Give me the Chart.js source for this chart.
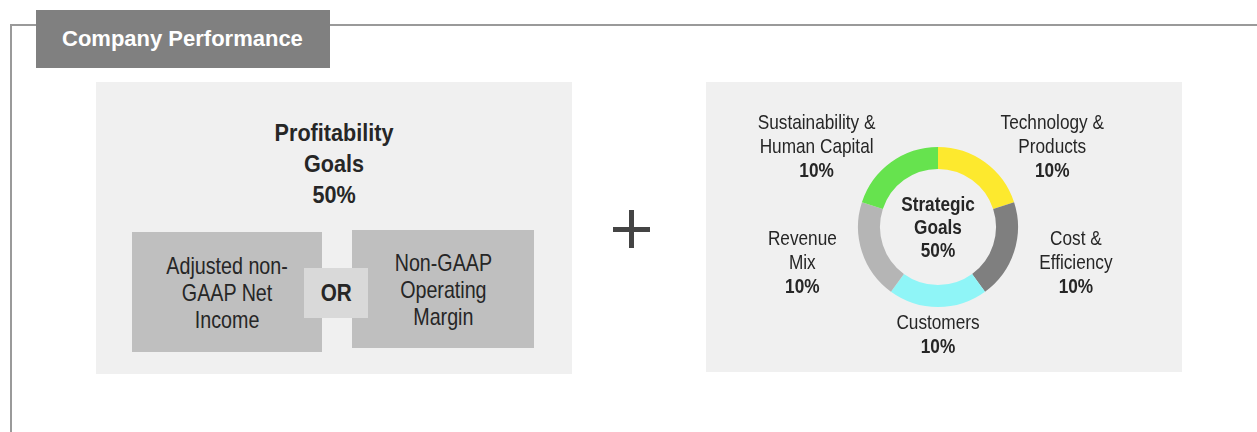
<!DOCTYPE html>
<html>
<head>
<meta charset="utf-8">
<script src="https://cdn.jsdelivr.net/npm/chart.js@4/dist/chart.umd.min.js"></script>
<style>
  body { margin:0; width:1257px; height:432px; background:#fff; position:relative; overflow:hidden;
         font-family:"Liberation Sans",Arial,sans-serif; color:#262626; }
  .frame { position:absolute; left:10px; top:24px; width:1260px; height:430px;
           border-left:2px solid #9a9a9a; border-top:2px solid #9a9a9a; }
  .tab { position:absolute; left:36px; top:10px; width:294px; height:58px; background:#808080;
         color:#fff; font-weight:bold; font-size:22px; line-height:58px; padding-left:26px; box-sizing:border-box; }
  .panel { position:absolute; background:#f0f0f0; }
  .box { position:absolute; background:#bfbfbf; display:flex; align-items:center; justify-content:center;
         text-align:center; font-size:24px; line-height:27px; }
  .or { position:absolute; background:#d9d9d9; display:flex; align-items:center; justify-content:center;
        font-weight:bold; font-size:23px; }
  .ptitle { position:absolute; left:96px; width:476px; top:117px; text-align:center; font-weight:bold;
            font-size:24px; line-height:31px; }
  .sq { display:inline-block; transform:scaleX(0.82); }
  .sq9 { display:inline-block; transform:scaleX(0.9); }
  .plus1 { position:absolute; left:613px; top:227px; width:37px; height:5px; background:#444; }
  .plus2 { position:absolute; left:629px; top:210px; width:5px; height:38px; background:#444; }
  #wrap { position:absolute; left:706px; top:82px; width:476px; height:290px; }
</style>
</head>
<body>
<div class="frame"></div>
<div class="tab">Company Performance</div>

<div class="panel" style="left:96px;top:82px;width:476px;height:292px"></div>
<div class="ptitle"><span class="sq9">Profitability<br>Goals<br>50%</span></div>
<div class="box" style="left:132px;top:232px;width:190px;height:120px"><span class="sq">Adjusted non-<br>GAAP Net<br>Income</span></div>
<div class="box" style="left:352px;top:230px;width:182px;height:118px"><span class="sq">Non-GAAP<br>Operating<br>Margin</span></div>
<div class="or" style="left:304px;top:268px;width:64px;height:50px"><span class="sq9">OR</span></div>

<div class="plus1"></div><div class="plus2"></div>

<div class="panel" style="left:706px;top:82px;width:476px;height:290px"></div>
<div id="wrap"><canvas id="grafico"></canvas></div>

<script>
// categorie (in senso orario dall'alto)
var labels = [["Technology &","Products"],["Cost &","Efficiency"],["Customers"],["Revenue","Mix"],["Sustainability &","Human Capital"]];
// valori in percentuale
var values = [10,10,10,10,10];
var colori = ["#fde92e","#7f7f7f","#8ff5f7","#b5b5b5","#66e34e"];
// testo centrale
var centro = ["Strategic","Goals","50%"];

var font = '"Liberation Sans",Arial,sans-serif';
var stretto = 0.82;

// scrive testo "stretto" (font condensato)
function scrivi(ctx, t, x, y, sx){
  ctx.save();
  ctx.translate(x, y);
  ctx.scale(sx, 1);
  ctx.fillText(t, 0, 0);
  ctx.restore();
}

// etichette intorno all'anello
var etichette = {
  id: 'etichette',
  afterDraw(chart){
    var ctx = chart.ctx;
    var meta = chart.getDatasetMeta(0);
    ctx.save();
    ctx.fillStyle = "#262626";
    ctx.textBaseline = "middle";
    meta.data.forEach(function(arc, i){
      var p = arc.getProps(['x','y','startAngle','endAngle','outerRadius'], true);
      var mid = (p.startAngle + p.endAngle) / 2;
      var cx = p.x + Math.cos(mid) * p.outerRadius * 1.33;
      var cy = p.y + Math.sin(mid) * p.outerRadius * 1.3 + 4;
      var c = Math.cos(mid);
      var allin = c > 0.3 ? "left" : (c < -0.3 ? "right" : "center");
      ctx.font = "21px " + font;
      var w = 0;
      labels[i].forEach(function(s){ w = Math.max(w, ctx.measureText(s).width * stretto); });
      // centro orizzontale del blocco
      var bx = allin == "left" ? cx + w / 2 : (allin == "right" ? cx - w / 2 : cx);
      var righe = labels[i].concat([values[i] + "%"]);
      var lh = 24;
      var y0 = cy - (righe.length - 1) * lh / 2;
      ctx.textAlign = "center";
      righe.forEach(function(t, k){
        var ultimo = k == righe.length - 1;
        ctx.font = (ultimo ? "bold " : "") + "21px " + font;
        scrivi(ctx, t, bx, y0 + k * lh, stretto);
      });
    });
    // testo al centro
    var a = chart.chartArea;
    var mx = (a.left + a.right) / 2, my = (a.top + a.bottom) / 2;
    ctx.textAlign = "center";
    ctx.font = "bold 20px " + font;
    centro.forEach(function(t, k){
      scrivi(ctx, t, mx, my - 22 + k * 23, 0.86);
    });
    ctx.restore();
  }
};

window.onload = function(){
  new Chart(document.getElementById("grafico"), {
    type: 'doughnut',
    data: {
      labels: labels.map(function(l){ return l.join(" "); }),
      datasets: [{
        data: values,
        backgroundColor: colori,
        borderWidth: 0
      }]
    },
    options: {
      responsive: true,
      maintainAspectRatio: false,
      animation: false,
      rotation: 0,
      radius: 80,
      cutout: '72.5%',
      layout: { padding: { left: 0, right: 12, top: 0, bottom: 0 } },
      plugins: { legend: { display: false }, tooltip: { enabled: false } },
      events: []
    },
    plugins: [etichette]
  });
};
</script>
</body>
</html>
